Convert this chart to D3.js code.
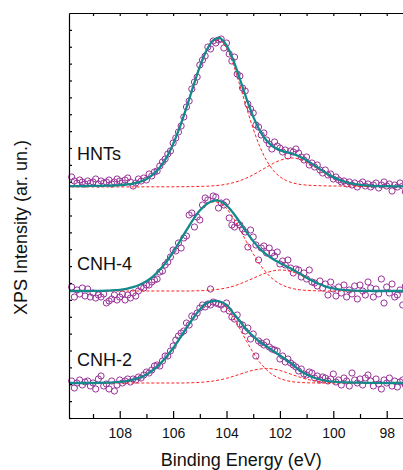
<!DOCTYPE html>
<html>
<head>
<meta charset="utf-8">
<script src="https://cdn.jsdelivr.net/npm/d3@7"></script>
<style>
  body { margin: 0; background: #fff; }
  svg { display: block; }
</style>
</head>
<body>
<div id="chart"></div>
<script>
// XPS Si 2p spectra: HNTs, CNH-4, CNH-2, with two-peak fits

const width = 403;
const height = 470;

// binding energy of the scan points (eV) and of the fit curves
const scanBE = d3.range(0, 129).map(i => +(109.8 - i * 0.1).toFixed(1));
const fitBE = d3.range(110, 96.99, -0.25);

// spectra names, vertical offsets and label lift (arb. units)
const names = ["HNTs", "CNH-4", "CNH-2"];
const offsets = [231, 127, 35];
const labelLift = [27.5, 21, 17];

// measured counts (above each offset), 109.8 -> 97.0 eV
const hntsCounts = [10,6,4,7,5,3,6,4,5,
  8,3,6,4,5,7,3,5,8,6,
  4,7,9,5,1,4,8,6,9,7,
  13,11,15,16,21,25,28,33,36,44,
  49,55,61,70,80,86,98,105,110,122,
  127,131,140,138,146,144,147,148,139,144,
  133,126,130,113,111,99,96,83,78,74,
  62,60,52,54,47,43,38,45,41,39,
  35,37,31,36,35,38,34,30,27,30,
  22,24,20,22,17,14,17,12,13,8,
  10,7,5,6,3,5,2,4,0,3,
  5,1,3,0,2,4,-1,2,5,1,
  3,-4,2,0,4,1,-5,2,0,3];

const cnh4Counts = [4,-6,1,-3,3,-5,2,-6,-2,
  -7,-4,-6,-3,-12,-10,-8,-4,-9,-6,
  -3,-9,-4,-7,-2,-5,0,4,3,6,
  6,9,11,12,19,20,26,29,34,41,
  40,48,43,53,55,76,78,64,74,71,
  86,93,91,2,95,94,83,88,86,89,
  73,66,64,68,66,62,59,44,61,54,
  46,31,43,45,38,43,38,35,39,27,
  30,26,31,23,18,22,21,14,18,12,
  21,9,8,5,10,3,7,-4,9,2,
  -5,4,-2,6,-6,1,-3,5,-8,6,
  0,-4,9,3,-6,2,-3,12,-12,4,
  -2,7,-6,-4,1,-14,5,-2,3,-5];

const cnh2Counts = [2,-5,0,3,-2,1,2,-3,0,
  -6,4,7,-3,-1,-6,2,-8,-2,3,
  0,2,4,1,4,3,6,5,8,11,
  10,13,17,18,17,22,27,27,32,37,
  43,47,50,52,60,58,67,66,70,75,
  78,76,79,78,81,80,79,78,74,80,
  72,66,64,68,59,58,52,55,44,49,
  27,42,40,38,41,36,34,33,32,24,
  27,21,24,20,18,16,12,14,9,8,
  11,10,5,7,3,6,5,2,4,9,
  1,3,-2,5,2,-3,10,3,0,4,
  -2,5,8,2,-3,4,-1,-6,3,0,
  5,-3,2,-4,1,3,-2,4,0,-3];

// fit envelope and components, 110 -> 97 eV every 0.25 eV
const hntsFit = [0.8,0.8,0.9,1.0,1.1,1.2,1.3,1.5,1.9,2.5,
  3.4,5.1,8.0,12.6,19.5,29.4,42.9,59.9,79.4,100.3,
  120.3,136.5,146.7,148.8,141.7,127.0,108.0,88.2,70.4,56.3,
  46.4,40.3,36.9,34.8,33.0,30.3,26.7,22.4,17.9,13.6,
  9.9,6.9,4.7,3.2,2.2,1.6,1.2,0.9,0.8,0.7,
  0.6,0.6,0.6];
const hntsPeak1 = [0.7,0.7,0.8,0.9,1.0,1.1,1.2,1.4,1.8,2.4,
  3.3,5.0,7.8,12.4,19.3,29.2,42.7,59.6,79.1,99.9,
  119.7,135.7,145.5,147.0,138.9,122.7,101.7,79.2,58.2,40.3,
  26.5,16.7,10.3,6.3,4.0,2.6,1.9,1.5,1.3,1.1,
  1.0,0.9,0.8,0.7,0.7,0.6,0.6,0.5,0.5,0.4,
  0.4,0.4,0.4];
const hntsPeak2 = [0.1,0.1,0.1,0.1,0.1,0.1,0.1,0.1,0.1,0.1,
  0.1,0.1,0.2,0.2,0.2,0.2,0.2,0.3,0.3,0.4,
  0.6,0.8,1.2,1.8,2.8,4.3,6.3,9.0,12.2,16.0,
  19.9,23.6,26.6,28.5,29.0,27.7,24.8,20.9,16.6,12.5,
  8.9,6.0,3.9,2.5,1.5,1.0,0.6,0.4,0.3,0.3,
  0.2,0.2,0.2];

const cnh4Fit = [0,0,0,0,0.1,0.2,0.3,0.7,1.2,2.2,
  3.8,6.2,9.7,14.6,21.2,29.3,39.0,49.7,60.8,71.4,
  80.4,86.9,90.2,90.0,85.6,78.0,68.7,58.9,49.9,42.3,
  36.4,31.8,28.1,24.6,21.1,17.2,13.3,9.8,6.7,4.2,
  2.6,1.4,0.8,0.4,0.2,0.1,0,0,0,0,
  0,0,0];
const cnh4Peak1 = [0,0,0,0,0.1,0.2,0.3,0.7,1.2,2.2,
  3.8,6.2,9.7,14.6,21.2,29.3,39.0,49.7,60.8,71.3,
  80.1,86.3,89.1,88.1,82.5,73.2,61.6,49.1,37.2,26.6,
  18.1,11.6,7.1,4.1,2.3,1.2,0.6,0.3,0.1,0,
  0,0,0,0,0,0,0,0,0,0,
  0,0,0];
const cnh4Peak2 = [0,0,0,0,0,0,0,0,0,0,
  0,0,0,0,0,0,0,0,0,0.1,
  0.3,0.6,1.1,1.9,3.1,4.8,7.1,9.8,12.7,15.7,
  18.3,20.2,21.0,20.5,18.8,16.0,12.7,9.5,6.6,4.2,
  2.6,1.4,0.8,0.4,0.2,0.1,0,0,0,0,
  0,0,0];

const cnh2Fit = [0,0,0,0,0,0.1,0.3,0.6,1.1,1.9,
  3.3,5.4,8.6,13.0,18.9,26.2,35.0,44.8,55.0,64.8,
  73.4,79.9,82.0,81.5,78,70,62,53,47,41,
  36.5,32,27.5,23,18,12.5,8.5,5.5,3.5,2.2,
  1.4,0.9,0.6,0.4,0.3,0.2,0.1,0.1,0,0,
  0,0,0];
const cnh2Peak1 = [0,0,0,0,0,0.1,0.3,0.6,1.1,1.9,
  3.3,5.4,8.6,13.0,18.9,26.2,35.0,44.8,54.9,64.5,
  72.8,78.7,81.6,80.8,75.2,65.8,54.1,41.7,30.3,20.6,
  13.2,7.9,4.5,2.4,1.2,0.6,0.2,0.1,0,0,
  0,0,0,0,0,0,0,0,0,0,
  0,0,0];
const cnh2Peak2 = [0,0,0,0,0,0,0,0,0,0,
  0,0,0,0,0,0,0,0,0.1,0.3,
  0.6,1.2,2.0,3.1,4.7,6.6,8.8,10.9,12.8,14.0,
  14.5,14.0,12.5,10.4,8.0,5.8,3.8,2.4,1.4,0.7,
  0.4,0.2,0.1,0,0,0,0,0,0,0,
  0,0,0];

const counts = [hntsCounts, cnh4Counts, cnh2Counts];
const fits = [hntsFit, cnh4Fit, cnh2Fit];
const peaks = [[hntsPeak1, hntsPeak2], [cnh4Peak1, cnh4Peak2], [cnh2Peak1, cnh2Peak2]];

const xMajor = [108, 106, 104, 102, 100, 98];
const xMinor = [109, 107, 105, 103, 101, 99, 97];

// plot box
const plotLeft = 69, plotRight = 413.4, plotTop = 13, plotBottom = 418;
const font = "'Liberation Sans', Arial, Helvetica, sans-serif";

const svg = d3.select("#chart")
  .append("svg")
  .attr("width", width)
  .attr("height", height)
  .attr("viewBox", [0, 0, width, height]);

const x = d3.scaleLinear().domain([109.9, 97]).range([plotLeft, plotRight]);
const y = d3.scaleLinear().domain([0, 405]).range([plotBottom, plotTop]);

svg.append("clipPath").attr("id", "plot-clip")
  .append("rect")
  .attr("x", plotLeft).attr("y", plotTop)
  .attr("width", plotRight - plotLeft).attr("height", plotBottom - plotTop);

const line = d3.line()
  .x(d => x(d[0]))
  .y(d => y(d[1]))
  .curve(d3.curveCatmullRom.alpha(0.5));

// scan points
const pts = svg.append("g");
counts.forEach((arr, k) => {
  pts.selectAll(null)
    .data(arr.map((v, i) => [scanBE[i], offsets[k] + v]))
    .join("circle")
    .attr("cx", d => x(d[0]))
    .attr("cy", d => y(d[1]))
    .attr("r", 3.1)
    .attr("fill", "none")
    .attr("stroke", "#993399")
    .attr("stroke-width", 1);
});

// fitted components (red dashed) and envelope (teal)
const curves = svg.append("g").attr("clip-path", "url(#plot-clip)");
peaks.forEach((pair, k) => {
  pair.forEach(arr => {
    curves.append("path")
      .attr("d", line(arr.map((v, i) => [fitBE[i], offsets[k] + v])))
      .attr("fill", "none")
      .attr("stroke", "#ff2020")
      .attr("stroke-width", 1)
      .attr("stroke-dasharray", "3,2");
  });
});
fits.forEach((arr, k) => {
  curves.append("path")
    .attr("d", line(arr.map((v, i) => [fitBE[i], offsets[k] + v])))
    .attr("fill", "none")
    .attr("stroke", "#14898b")
    .attr("stroke-width", 2.3);
});

// sample labels
names.forEach((name, k) => {
  svg.append("text")
    .attr("x", x(109.6))
    .attr("y", y(offsets[k] + labelLift[k]))
    .attr("font-family", font)
    .attr("font-size", 18)
    .attr("fill", "#111")
    .text(name);
});

// axes, ticks pointing inwards
const axisStyle = g => {
  g.selectAll("path, line").attr("stroke", "#000").attr("stroke-width", 1.2);
  g.selectAll("text").attr("font-family", font).attr("font-size", 14).attr("fill", "#111");
};

svg.append("g")
  .attr("transform", `translate(0,${plotBottom})`)
  .call(d3.axisBottom(x).tickValues(xMajor).tickSize(-7).tickSizeOuter(0).tickPadding(10))
  .call(axisStyle);

svg.append("g")
  .attr("transform", `translate(0,${plotBottom})`)
  .call(d3.axisBottom(x).tickValues(xMinor).tickSize(-4).tickSizeOuter(0).tickFormat(""))
  .call(axisStyle);

svg.append("g")
  .attr("transform", `translate(0,${plotTop})`)
  .call(d3.axisTop(x).tickValues(xMajor.concat(xMinor)).tickSize(-3).tickSizeOuter(0).tickFormat(""))
  .call(axisStyle);

const yTicks = d3.range(0, 405, 16.875);
svg.append("g")
  .attr("transform", `translate(${plotLeft},0)`)
  .call(d3.axisLeft(y).tickValues(yTicks).tickSize(-3).tickSizeOuter(0).tickFormat(""))
  .call(axisStyle);

svg.append("g")
  .attr("transform", `translate(${plotRight},0)`)
  .call(d3.axisRight(y).tickValues(yTicks).tickSize(-3).tickSizeOuter(0).tickFormat(""))
  .call(axisStyle);

// axis titles
svg.append("text")
  .attr("x", (plotLeft + plotRight) / 2)
  .attr("y", 466)
  .attr("text-anchor", "middle")
  .attr("font-family", font)
  .attr("font-size", 18)
  .attr("fill", "#111")
  .text("Binding Energy (eV)");

svg.append("text")
  .attr("transform", "translate(27,227.5) rotate(-90)")
  .attr("text-anchor", "middle")
  .attr("font-family", font)
  .attr("font-size", 18)
  .attr("fill", "#111")
  .text("XPS Intensity (ar. un.)");
</script>
</body>
</html>
